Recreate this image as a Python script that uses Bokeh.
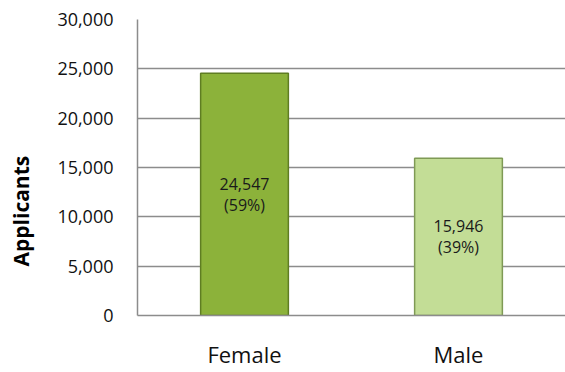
from bokeh.plotting import figure
from bokeh.models import ColumnDataSource, Range1d, NumeralTickFormatter, FixedTicker
from bokeh.core.properties import value
from bokeh.embed import file_html
from bokeh.resources import INLINE

categories = ["Female", "Male"]
applicants = [24547, 15946]
percents = ["59%", "39%"]
bar_colors = ["#8cb23a", "#c3dd96"]
edge_colors = ["#5f7d22", "#7f9a55"]
y_ticks = [0, 5000, 10000, 15000, 20000, 25000, 30000]
y_max = 30000
y_title = "Applicants"

labels = [f"{v:,}\n({p})" for v, p in zip(applicants, percents)]
src = ColumnDataSource(dict(x=categories, top=applicants, mid=[v / 2 for v in applicants],
                            label=labels, color=bar_colors, edge=edge_colors))

FONT = "Open Sans"
W, H = 565, 372
LEFT, TOP, BOTTOM = 137, 19, 315
p = figure(width=W, height=H, x_range=categories, y_range=Range1d(0, y_max),
           output_backend="svg", toolbar_location=None,
           min_border_left=LEFT, min_border_right=0, min_border_top=TOP,
           min_border_bottom=H - BOTTOM)
p.outline_line_color = None
p.background_fill_color = "white"
p.border_fill_color = "white"

p.vbar(x="x", top="top", width=0.41, source=src, fill_color="color",
       line_color="edge", line_width=1.5)
p.text(x="x", y="mid", text="label", source=src, text_align="center",
       text_baseline="middle", text_font=value(FONT), text_font_size="16px",
       text_color="#1a1a1a", text_line_height=0.95)

p.yaxis.ticker = FixedTicker(ticks=y_ticks)
p.yaxis.formatter = NumeralTickFormatter(format="0,0")
# trailing no-break spaces shift the centred title down, as in the original slide
p.yaxis.axis_label = y_title + "\u00a0" * 16
p.yaxis.axis_label_text_font = FONT
p.yaxis.axis_label_text_font_style = "bold"
p.yaxis.axis_label_text_font_size = "21px"
p.yaxis.axis_label_text_color = "#000000"
p.yaxis.axis_label_standoff = 19
p.yaxis.major_label_text_font = FONT
p.yaxis.major_label_text_font_size = "18px"
p.yaxis.major_label_text_color = "#111111"
p.yaxis.major_label_standoff = 24
p.yaxis.major_tick_line_color = None
p.yaxis.major_tick_out = 0
p.yaxis.major_tick_in = 0
p.yaxis.minor_tick_line_color = None
p.yaxis.minor_tick_out = 0
p.yaxis.axis_line_color = "#8c8c8c"
p.yaxis.axis_line_width = 1.5

p.xaxis.major_label_text_font = FONT
p.xaxis.major_label_text_font_size = "22px"
p.xaxis.major_label_text_color = "#111111"
p.xaxis.major_label_standoff = 23
p.xaxis.major_tick_line_color = None
p.xaxis.major_tick_out = 0
p.xaxis.major_tick_in = 0
p.xaxis.axis_line_color = "#8c8c8c"
p.xaxis.axis_line_width = 1.5

p.xgrid.grid_line_color = None
p.ygrid.grid_line_color = "#8c8c8c"
p.ygrid.grid_line_width = 1.5

open("out.html", "w").write(file_html(p, INLINE))
